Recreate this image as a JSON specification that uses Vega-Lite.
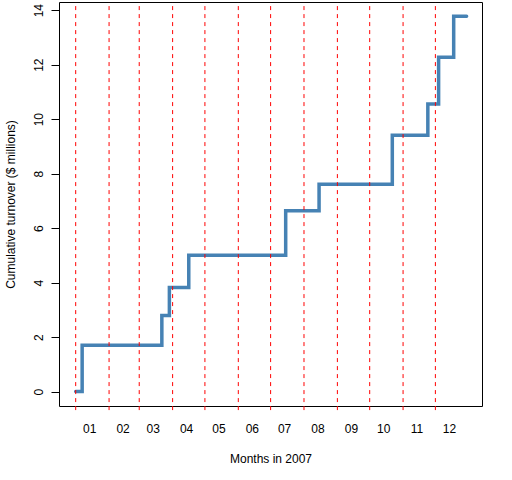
{
  "$schema": "https://vega.github.io/schema/vega-lite/v6.json",
  "width": 423,
  "height": 404,
  "autosize": {"type": "none"},
  "padding": {"left": 59, "top": 2, "right": 30, "bottom": 74},
  "background": "white",
  "config": {
    "view": {"stroke": "black", "strokeWidth": 1},
    "font": "Liberation Sans",
    "axis": {
      "grid": false,
      "domain": false,
      "labelFont": "Liberation Sans",
      "labelFontSize": 12,
      "labelColor": "black",
      "titleFont": "Liberation Sans",
      "titleFontSize": 12,
      "titleFontWeight": "normal",
      "titleColor": "black",
      "labelFlush": false,
      "labelOverlap": false
    }
  },
  "datasets": {
    "turnover": [
      {"date": "2007/01/01", "cumulative": 0},
      {"date": "2007/01/07", "cumulative": 1.70},
      {"date": "2007/03/22", "cumulative": 2.79},
      {"date": "2007/03/29", "cumulative": 3.82},
      {"date": "2007/04/16", "cumulative": 5.00},
      {"date": "2007/07/15", "cumulative": 6.64},
      {"date": "2007/08/15", "cumulative": 7.61},
      {"date": "2007/10/22", "cumulative": 9.41},
      {"date": "2007/11/24", "cumulative": 10.56},
      {"date": "2007/12/04", "cumulative": 12.27},
      {"date": "2007/12/18", "cumulative": 13.78},
      {"date": "2007/12/30", "cumulative": 13.78}
    ],
    "months": [
      {"month_start": "2007/01/01"},
      {"month_start": "2007/02/01"},
      {"month_start": "2007/03/01"},
      {"month_start": "2007/04/01"},
      {"month_start": "2007/05/01"},
      {"month_start": "2007/06/01"},
      {"month_start": "2007/07/01"},
      {"month_start": "2007/08/01"},
      {"month_start": "2007/09/01"},
      {"month_start": "2007/10/01"},
      {"month_start": "2007/11/01"},
      {"month_start": "2007/12/01"}
    ]
  },
  "layer": [
    {
      "data": {"name": "turnover"},
      "mark": {
        "type": "line",
        "interpolate": "step-after",
        "color": "#4682B4",
        "strokeWidth": 3.5,
        "strokeCap": "round"
      },
      "encoding": {
        "x": {
          "field": "date",
          "type": "temporal",
          "title": "Months in 2007",
          "scale": {
            "domain": [
              {"year": 2006, "month": 12, "date": 16, "hours": 12},
              {"year": 2008, "month": 1, "date": 13, "hours": 7}
            ],
            "nice": false
          },
          "axis": {
            "labels": false,
            "ticks": false,
            "titleY": 56,
            "titleBaseline": "alphabetic"
          }
        },
        "y": {
          "field": "cumulative",
          "type": "quantitative",
          "title": "Cumulative turnover ($ millions)",
          "scale": {"domain": [-0.53, 14.3], "nice": false, "zero": false},
          "axis": {
            "values": [0, 2, 4, 6, 8, 10, 12, 14],
            "tickSize": 8,
            "tickColor": "black",
            "tickWidth": 1,
            "labelAngle": 270,
            "labelAlign": "center",
            "labelBaseline": "alphabetic",
            "labelPadding": 9,
            "titleAngle": 270,
            "titleX": -45,
            "titleBaseline": "alphabetic"
          }
        }
      }
    },
    {
      "data": {"name": "months"},
      "mark": {"type": "rule", "color": "#FF0000", "strokeDash": [4, 4], "strokeWidth": 1},
      "encoding": {
        "x": {"field": "month_start", "type": "temporal", "title": "Months in 2007"},
        "y": {"datum": -0.68, "type": "quantitative", "title": "Cumulative turnover ($ millions)"},
        "y2": {"datum": 14.3}
      }
    },
    {
      "data": {"name": "months"},
      "mark": {
        "type": "text",
        "dx": 14,
        "align": "center",
        "baseline": "alphabetic",
        "font": "Liberation Sans",
        "fontSize": 12,
        "color": "black"
      },
      "encoding": {
        "x": {"field": "month_start", "type": "temporal", "title": "Months in 2007"},
        "y": {"datum": -1.52, "type": "quantitative", "title": "Cumulative turnover ($ millions)"},
        "text": {"field": "month_start", "type": "temporal", "format": "%m"}
      }
    }
  ]
}
